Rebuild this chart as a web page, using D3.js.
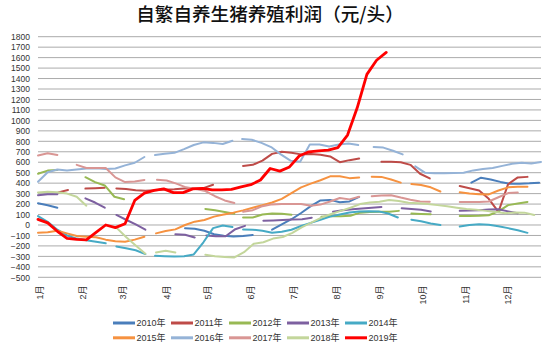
<!DOCTYPE html>
<html><head><meta charset="utf-8">
<script src="https://cdn.jsdelivr.net/npm/d3@7"></script>
<style>body{margin:0;background:#fff}svg{display:block}</style>
</head><body>
<script>
// ---- data ----
const years = ["2010年","2011年","2012年","2013年","2014年","2015年","2016年","2017年","2018年","2019年"];
const colors = ["#4A7EBB","#BE4B48","#98B954","#7D60A0","#46AAC5","#F69240","#95B3D7","#D99694","#C3D69B","#FF0000"];
const months = ["1月","2月","3月","4月","5月","6月","7月","8月","9月","10月","11月","12月"];
const monthWeeks = [0.1, 4.55, 8.68, 13.23, 17.47, 21.92, 26.36, 30.81, 35.25, 39.7, 44.14, 48.49];
const yTicks = d3.range(-500, 1801, 100);

// each series: list of [start week, weekly values]; breaks between segments are missing data
const s2010 = [
  [0, [207, 188, 165]],
  [15.2, [-32, -36, -55, -88, -102, -110, -105, -96]],
  [24.2, [-45, 5, 55, 115, 180, 235, 240, 218, 225, 268]],
  [44.8, [405, 452, 435, 412, 395, 395, 398, 405]]
];
const s2011 = [
  [2.1, [312, 335]],
  [4.9, [348, 352, 355]],
  [8.1, [350, 345, 333, 328, 332, 340, 342, 348, 350, 352, 385]],
  [21.2, [565, 575, 615, 680, 700, 690, 675, 678, 672, 655, 600, 620, 635]],
  [35.5, [605, 605, 600, 575, 490, 445]],
  [43.6, [372, 352, 330, 250, 125, 390, 455, 460]]
];
const s2012 = [
  [0, [490, 520, 525]],
  [4.9, [457, 410, 378, 270, 246]],
  [17.3, [153, 140, 125, 108]],
  [21.2, [72, 72, 100, 110, 108, 98]],
  [29.3, [80, 85, 83, 88, 118, 125, 127, 127, 135]],
  [38.6, [110, 105, 102]],
  [43.6, [86, 86, 88, 93, 130, 190, 205, 220]]
];
const s2013 = [
  [0, [285, 295, 295]],
  [4.9, [255, 215, 165]],
  [8.1, [96, 50, 5, -45]],
  [14.2, [-88, -94, -120]],
  [17.4, [-100, -108, -108, -40, -8]],
  [23.3, [40, 44, 48, 52, 56, 70]],
  [30.5, [127, 140, 150, 158, 166, 172]],
  [37.6, [160, 152, 145, 130]],
  [43.6, [135, 138, 142, 148, 150, 130, 112]]
];
const s2014 = [
  [0, [85, 30, -45, -100, -130, -145, -160, -175]],
  [8.1, [-206, -222, -241, -278]],
  [12.1, [-295, -298, -300, -298, -282, -165, -30, -5, -20]],
  [21.2, [-42, -45, -55, -75, -65, -45, -10, 20, 50, 80, 100, 120, 128, 132, 130, 110, 72]],
  [38.6, [50, 35, 15, 0]],
  [43.6, [-15, 0, 8, 2, -12, -30, -50, -75]]
];
const s2015 = [
  [0, [-73, -70, -55, -80, -105, -112, -118, -140, -155, -160, -140, -112]],
  [12.2, [-80, -58, -42, 0, 32, 48, 80, 100, 118, 140, 165, 190, 215, 250, 305, 360, 395, 428, 465, 465, 448, 455]],
  [34.5, [462, 460, 435, 405]],
  [38.6, [392, 382, 360, 320]],
  [43.6, [312, 300, 295, 292, 330, 360, 365, 365]]
];
const s2016 = [
  [0, [414, 505, 530, 520, 530, 540, 542, 535, 540, 570, 595, 650]],
  [12.1, [669, 680, 690, 725, 765, 790, 785, 775, 805]],
  [21.1, [822, 815, 785, 745, 675, 615, 605, 770, 770, 750, 770, 780, 765]],
  [34.7, [745, 740, 710, 675]],
  [39, [560, 500, 494, 494, 496, 500, 522, 535, 545, 565, 585, 596, 588, 602]]
];
const s2017 = [
  [0, [665, 685, 670]],
  [4.0, [575, 545, 545, 545, 455, 410, 415, 430]],
  [12.3, [432, 426, 395, 360, 345, 325, 275, 235, 210]],
  [21.2, [127, 142, 180, 197, 200, 200, 200, 185, 195, 225, 258, 245, 270]],
  [34.5, [275, 282, 285, 262, 242, 225, 222]],
  [43.6, [220, 220, 220, 225, 265, 305, 310]]
];
const s2018 = [
  [0, [310, 318, 312, 300, 270, 185]],
  [8.1, [-25, -115, -195, -275]],
  [12.2, [-262, -247, -262]],
  [17.3, [-285, -298, -305, -310, -260, -180, -165, -130, -115, -75, -20, 25, 70, 105, 135, 165, 200, 215, 222, 238, 230, 212, 207, 200, 190, 180, 165, 152, 145, 135, 125, 112, 120, 118, 95]]
];
const s2019 = [
  [0, [54, 20, -60, -128, -138, -142, -70, 0, -25, 12, 235, 305, 330, 345, 310, 310, 345, 350, 335, 335, 340, 365, 385, 430, 540, 515, 555, 660, 700, 708, 715, 740, 860, 1120, 1440, 1575, 1650]]
];
const allSeries = [s2010, s2011, s2012, s2013, s2014, s2015, s2016, s2017, s2018, s2019];

// ---- drawing ----
const W = 550, H = 347;
const svg = d3.select("body").append("svg").attr("width", W).attr("height", H);
const x = d3.scaleLinear().domain([0, 52]).range([38, 541]);
const y = d3.scaleLinear().domain([-500, 1800]).range([277.3, 36.7]);
const numFont = "'Liberation Sans','Noto Sans CJK SC',sans-serif";

// title
svg.append("text").attr("x", 270).attr("y", 20.5).attr("text-anchor", "middle")
  .attr("font-family", "'Noto Sans CJK SC',sans-serif").attr("font-size", 18.6)
  .attr("font-weight", 500)
  .attr("fill", "#111").text("自繁自养生猪养殖利润（元/头）");

// gridlines
svg.append("g").selectAll("line").data(yTicks).join("line")
  .attr("x1", x(0)).attr("x2", x(52))
  .attr("y1", d => y(d)).attr("y2", d => y(d))
  .attr("stroke", "#ababab").attr("stroke-width", 1);

// y axis labels
const yAxis = svg.append("g").attr("transform", "translate(30,0)")
  .call(d3.axisLeft(y).tickValues(yTicks).tickFormat(d3.format("d")).tickSize(0).tickPadding(0));
yAxis.select(".domain").remove();
yAxis.selectAll("text").attr("font-family", numFont).attr("font-size", 8.5).attr("fill", "#333");

// x axis month labels (rotated)
const xAxis = svg.append("g").attr("transform", "translate(0,285.5)")
  .call(d3.axisBottom(x).tickValues(monthWeeks).tickFormat((d, i) => months[i]).tickSize(0));
xAxis.select(".domain").remove();
xAxis.selectAll("text")
  .attr("x", 0).attr("y", 0).attr("dy", "0.35em")
  .attr("transform", "rotate(-90)").attr("text-anchor", "end")
  .attr("font-family", numFont).attr("font-size", 9).attr("fill", "#333");

// series lines
const line = d3.line().x(d => x(d[0])).y(d => y(d[1]));
const plot = svg.append("g");
allSeries.forEach((segs, si) => {
  segs.forEach(([start, vals]) => {
    plot.append("path")
      .attr("d", line(vals.map((v, i) => [start + i, v])))
      .attr("fill", "none")
      .attr("stroke", colors[si])
      .attr("stroke-width", si === 9 ? 2.8 : 2)
      .attr("stroke-linejoin", "round")
      .attr("stroke-linecap", "round");
  });
});

// legend
const leg = svg.append("g").selectAll("g").data(years).join("g")
  .attr("transform", (d, i) => `translate(${113 + (i % 5) * 58},${i < 5 ? 323 : 337.8})`);
leg.append("line").attr("x1", 0).attr("x2", 22).attr("y1", 0).attr("y2", 0)
  .attr("stroke", (d, i) => colors[i]).attr("stroke-width", 3);
leg.append("text").attr("x", 23.5).attr("y", 0).attr("dy", "0.35em")
  .attr("font-family", numFont).attr("font-size", 9).attr("fill", "#333").text(d => d);
</script>
</body></html>
